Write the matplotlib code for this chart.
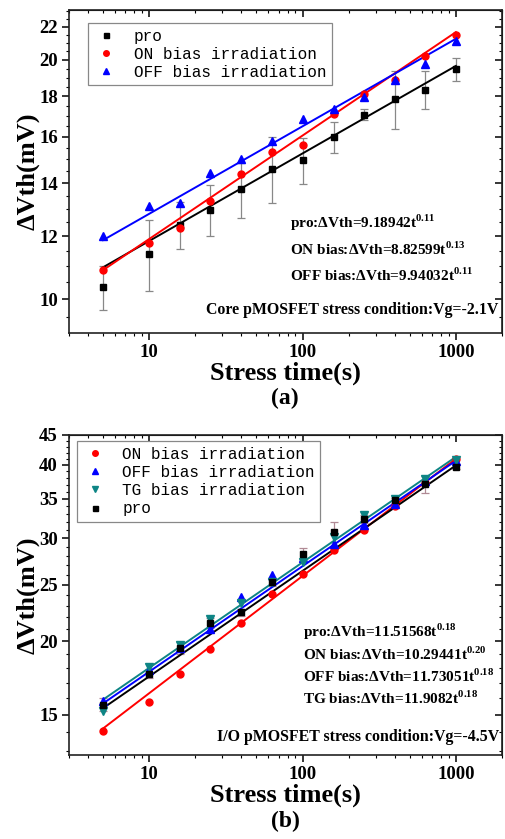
import numpy as np
import matplotlib
matplotlib.use("Agg")
import matplotlib.pyplot as plt
from matplotlib.ticker import MultipleLocator, FixedLocator, LogLocator, NullFormatter

plt.rcParams['font.family'] = ['Liberation Serif', 'DejaVu Serif']
plt.rcParams['mathtext.fontset'] = 'custom'
plt.rcParams['mathtext.rm'] = 'Liberation Serif'
plt.rcParams['mathtext.bf'] = 'Liberation Serif:bold'

# stress times (s), shared by both panels
t = [5, 10, 16, 25, 40, 63, 100, 160, 250, 400, 630, 1000]

# panel (a): core pMOSFET, Vg=-2.1V
a_pro = [10.35, 11.40, 12.40, 12.95, 13.74, 14.60, 14.97, 16.00, 17.07, 17.85, 18.34, 19.46]
a_pro_err = [0.65, 1.17, 0.85, 0.95, 1.10, 1.40, 1.00, 0.72, 0.25, 1.50, 1.00, 0.66]
a_on = [10.88, 11.78, 12.28, 13.30, 14.35, 15.32, 15.61, 17.12, 18.10, 18.85, 20.20, 21.46]
a_off = [12.00, 13.11, 13.22, 14.40, 14.99, 15.81, 16.87, 17.33, 17.96, 18.85, 19.77, 21.10]
a_fit = {'pro': (9.18942, 0.11), 'ON': (8.82599, 0.13), 'OFF': (9.94032, 0.11)}

# panel (b): I/O pMOSFET, Vg=-4.5V
b_on = [14.05, 15.75, 17.61, 19.43, 21.53, 24.13, 26.10, 28.60, 31.00, 34.00, 37.20, 40.90]
b_off = [15.80, 17.90, 19.50, 21.00, 23.85, 26.00, 27.80, 29.30, 31.60, 34.30, 37.60, 40.60]
b_tg = [15.20, 18.10, 19.70, 21.80, 23.30, 25.30, 27.30, 30.20, 32.80, 35.00, 37.90, 40.80]
b_pro = [15.60, 17.61, 19.50, 21.50, 22.44, 25.26, 28.24, 30.75, 32.30, 34.80, 37.10, 39.70]
b_pro_err = [0.40, 0.30, 0.45, 0.40, 0.30, 0.40, 0.60, 1.20, 0.50, 0.40, 1.20, 0.40]
b_fit = {'pro': (11.51568, 0.18), 'ON': (10.29441, 0.20), 'OFF': (11.73051, 0.18), 'TG': (11.9082, 0.18)}

RED, BLUE, TEAL = '#ff0000', '#0000ff', '#0e8585'
W, H = 505, 839

fig = plt.figure(figsize=(W / 100, H / 100), dpi=100)


def box(x0, y0, x1, y1):
    return [x0 / W, 1 - y1 / H, (x1 - x0) / W, (y1 - y0) / H]


def fx(x):
    return x / W


def fy(y):
    return 1 - y / H


def style_axes(ax, ylim, ymaj, ymin):
    ax.set_xscale('log')
    ax.set_yscale('log')
    ax.set_xlim(3, 2000)
    ax.set_ylim(*ylim)
    ax.xaxis.set_major_locator(FixedLocator([10, 100, 1000]))
    ax.xaxis.set_minor_locator(LogLocator(base=10, subs=np.arange(2, 10)))
    ax.xaxis.set_major_formatter(plt.FuncFormatter(lambda v, p: f'{v:g}'))
    ax.xaxis.set_minor_formatter(NullFormatter())
    ax.yaxis.set_major_locator(MultipleLocator(ymaj))
    ax.yaxis.set_minor_locator(MultipleLocator(ymin))
    ax.yaxis.set_major_formatter(plt.FuncFormatter(lambda v, p: f'{v:g}'))
    ax.yaxis.set_minor_formatter(NullFormatter())
    ax.tick_params(which='major', direction='out', length=5, width=1.1, labelsize=13.5, pad=3)
    ax.tick_params(which='minor', direction='out', length=2.5, width=0.8)
    for lab in ax.get_xticklabels() + ax.get_yticklabels():
        lab.set_fontweight('bold')
    for s in ax.spines.values():
        s.set_linewidth(1.2)
        s.set_color('#222222')
    top = ax.secondary_xaxis('top')
    top.xaxis.set_major_locator(FixedLocator([10, 100, 1000]))
    top.xaxis.set_minor_locator(LogLocator(base=10, subs=np.arange(2, 10)))
    top.tick_params(which='both', direction='in', labeltop=False)
    top.tick_params(which='major', length=5, width=1.1)
    top.tick_params(which='minor', length=2.5, width=0.8)
    right = ax.secondary_yaxis('right')
    right.yaxis.set_major_locator(MultipleLocator(ymaj))
    right.yaxis.set_minor_locator(MultipleLocator(ymin))
    right.tick_params(which='both', direction='in', labelright=False)
    right.tick_params(which='major', length=5, width=1.1)
    right.tick_params(which='minor', length=2.5, width=0.8)
    ax.set_xlabel('Stress time(s)', fontsize=19, fontweight='bold', labelpad=0)
    ax.set_ylabel('ΔVth(mV)', fontsize=19, fontweight='bold', labelpad=0)


tt = np.geomspace(5, 1000, 40)
leg_font = {'family': 'Liberation Mono', 'size': 11.5}
leg_kw = dict(loc='upper left', prop=leg_font, frameon=True, fancybox=False,
              edgecolor='#888888', framealpha=1, handletextpad=0.9, labelspacing=0.2,
              borderpad=0.35, handlelength=1.6, borderaxespad=0, markerscale=0.8)

# ---------------- panel (a) ----------------
ax1 = fig.add_axes(box(69, 10, 502, 333))
style_axes(ax1, (9.07, 23.1), 2, 0.5)
ax1.errorbar(t, a_pro, yerr=a_pro_err, fmt='none', ecolor='#888888', elinewidth=0.9,
             capsize=3, capthick=0.9, zorder=1)
for key, c in [('pro', 'black'), ('ON', RED), ('OFF', BLUE)]:
    A, n = a_fit[key]
    ax1.plot(tt, A * tt ** n, color=c, lw=1.4, zorder=2)
ax1.plot(t, a_pro, 's', color='black', ms=4.5, label='pro', zorder=3)
ax1.plot(t, a_on, 'o', color=RED, ms=5, label='ON bias irradiation', zorder=3)
ax1.plot(t, a_off, '^', color=BLUE, ms=5.5, label='OFF bias irradiation', zorder=3)
leg = ax1.legend(bbox_to_anchor=(0.044, 0.96), **leg_kw)
leg.get_frame().set_linewidth(0.9)

for i, s in enumerate([r'pro:ΔVth=9.18942t$^{\mathbf{0.11}}$',
                       r'ON bias:ΔVth=8.82599t$^{\mathbf{0.13}}$',
                       r'OFF bias:ΔVth=9.94032t$^{\mathbf{0.11}}$']):
    fig.text(fx(290), fy(223 + i * 26), s, fontsize=11, fontweight='bold', va='center')
fig.text(fx(498), fy(310), 'Core pMOSFET stress condition:Vg=-2.1V', fontsize=11.4,
         fontweight='bold', va='center', ha='right')
fig.text(fx(285), fy(398), '(a)', fontsize=17, fontweight='bold', ha='center', va='center')

# ---------------- panel (b) ----------------
ax2 = fig.add_axes(box(69, 435, 502, 755))
style_axes(ax2, (12.8, 45), 5, 1)
ax2.errorbar(t, b_pro, yerr=b_pro_err, fmt='none', ecolor='#b08a95', elinewidth=0.9,
             capsize=3, capthick=0.9, zorder=1)
for key, c in [('ON', RED), ('pro', 'black'), ('OFF', BLUE), ('TG', TEAL)]:
    A, n = b_fit[key]
    ax2.plot(tt, A * tt ** n, color=c, lw=1.4, zorder=2)
ax2.plot(t, b_on, 'o', color=RED, ms=5, label='ON bias irradiation', zorder=3)
ax2.plot(t, b_off, '^', color=BLUE, ms=5.5, label='OFF bias irradiation', zorder=3)
ax2.plot(t, b_tg, 'v', color=TEAL, ms=5.5, label='TG bias irradiation', zorder=3)
ax2.plot(t, b_pro, 's', color='black', ms=4.5, label='pro', zorder=4)
leg = ax2.legend(bbox_to_anchor=(0.018, 0.981), **leg_kw)
leg.get_frame().set_linewidth(0.9)

for i, s in enumerate([r'pro:ΔVth=11.51568t$^{\mathbf{0.18}}$',
                       r'ON bias:ΔVth=10.29441t$^{\mathbf{0.20}}$',
                       r'OFF bias:ΔVth=11.73051t$^{\mathbf{0.18}}$',
                       r'TG bias:ΔVth=11.9082t$^{\mathbf{0.18}}$']):
    fig.text(fx(303), fy(632 + i * 22), s, fontsize=11, fontweight='bold', va='center')
fig.text(fx(499), fy(737), 'I/O pMOSFET stress condition:Vg=-4.5V', fontsize=11.4,
         fontweight='bold', va='center', ha='right')
fig.text(fx(285), fy(821), '(b)', fontsize=17, fontweight='bold', ha='center', va='center')

fig.savefig('out.png', dpi=100)
